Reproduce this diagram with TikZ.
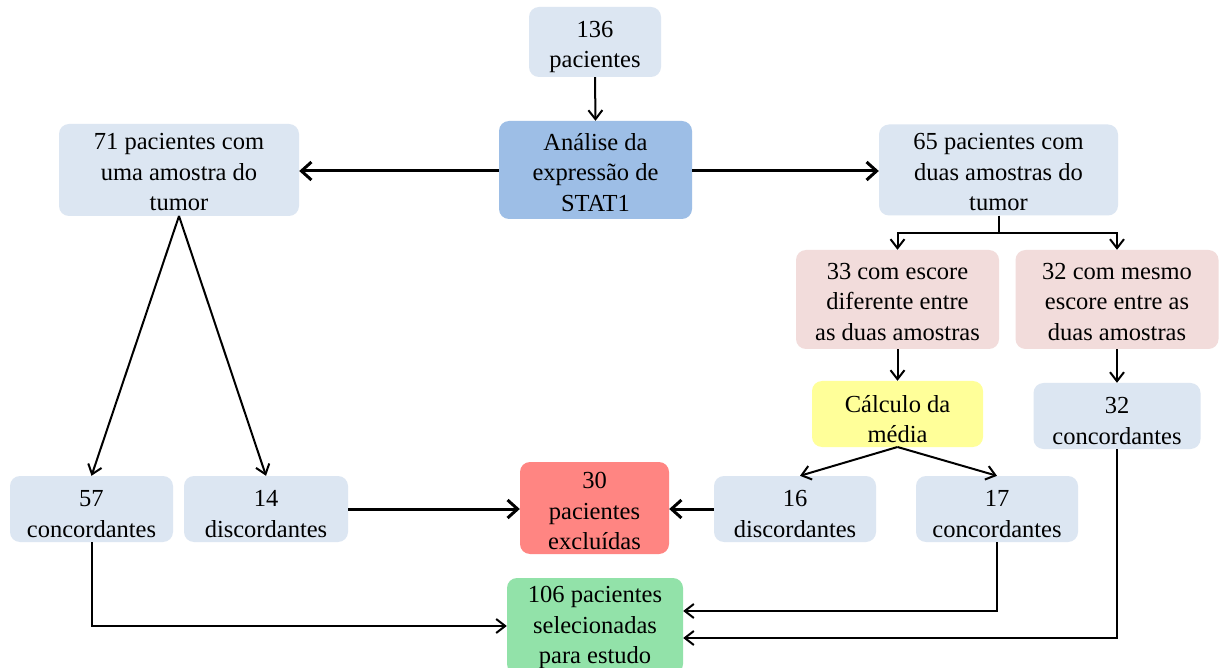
\documentclass[tikz,border=0pt]{standalone}
\usepackage{fontspec}
\setmainfont{Liberation Serif}
\usetikzlibrary{arrows.meta}
\definecolor{lblue}{HTML}{DCE6F2}
\definecolor{mblue}{HTML}{9DBEE6}
\definecolor{lpink}{HTML}{F2DCDB}
\definecolor{lyel}{HTML}{FFFF99}
\definecolor{lred}{HTML}{FF8582}
\definecolor{lgreen}{HTML}{92E2A9}
\tikzset{
  box/.style={rounded corners=10pt, inner sep=0pt},
  txt/.style={inner sep=0pt, align=center,
    font=\fontsize{24.5}{30.5}\selectfont, text=black},
  thinarr/.style={draw=black, line width=2pt, -{Straight Barb[length=9pt,width=14pt,line width=2pt]}},
  thickarr/.style={draw=black, line width=3pt, -{Straight Barb[length=10pt,width=18pt,line width=3pt]}},
  plainline/.style={draw=black, line width=2pt},
}
\newcommand{\boxtext}[3][-5pt]{\node[txt] (t#2) at ([yshift=#1]#2.center) {#3};}
\begin{document}
\begin{tikzpicture}[x=1pt,y=-1pt]
\useasboundingbox (0,0) rectangle (1219,668);
\fill[white] (0,0) rectangle (1219,668);

\node[box, fill=lblue, minimum width=132pt, minimum height=70pt] (n136) at (595,42) {};
\node[box, fill=mblue, minimum width=193pt, minimum height=98pt] (ana) at (595.5,170) {};
\node[box, fill=lblue, minimum width=240pt, minimum height=92pt] (n71) at (179,170) {};
\node[box, fill=lblue, minimum width=239pt, minimum height=91pt] (n65) at (998.5,170) {};
\node[box, fill=lpink, minimum width=203pt, minimum height=99pt] (n33) at (897.5,299.5) {};
\node[box, fill=lpink, minimum width=203pt, minimum height=99pt] (n32m) at (1117,299.5) {};
\node[box, fill=lyel, minimum width=171pt, minimum height=66pt] (calc) at (897.5,414) {};
\node[box, fill=lblue, minimum width=167pt, minimum height=66pt] (c32) at (1117,416) {};
\node[box, fill=lblue, minimum width=163pt, minimum height=66pt] (n57) at (91.5,509) {};
\node[box, fill=lblue, minimum width=164pt, minimum height=66pt] (n14) at (266,509) {};
\node[box, fill=lred, minimum width=149pt, minimum height=92pt] (n30) at (594.5,508) {};
\node[box, fill=lblue, minimum width=162pt, minimum height=66pt] (n16) at (795,509) {};
\node[box, fill=lblue, minimum width=162pt, minimum height=66pt] (n17) at (997,509) {};
\node[box, fill=lgreen, minimum width=176pt, minimum height=96pt] (n106) at (595,626) {};

\boxtext{n136}{136\\pacientes}
\boxtext[-2.5pt]{ana}{Análise da\\expressão de\\STAT1}
\boxtext[-2.5pt]{n71}{71 pacientes com\\uma amostra do\\tumor}
\boxtext[-2.5pt]{n65}{65 pacientes com\\duas amostras do\\tumor}
\boxtext[-2.5pt]{n33}{33 com escore\\diferente entre\\as duas amostras}
\boxtext[-2.5pt]{n32m}{32 com mesmo\\escore entre as\\duas amostras}
\boxtext{calc}{Cálculo da\\média}
\boxtext{c32}{32\\concordantes}
\boxtext{n57}{57\\concordantes}
\boxtext{n14}{14\\discordantes}
\boxtext[-3pt]{n30}{30\\pacientes\\excluídas}
\boxtext{n16}{16\\discordantes}
\boxtext{n17}{17\\concordantes}
\boxtext[-1.5pt]{n106}{106 pacientes\\selecionadas\\para estudo}

\coordinate (split65) at (998.5,233);
\coordinate (top71) at (179,216);
\coordinate (botcalc) at (897.5,447);

\draw[thinarr] (n136.south) -- (ana.north);
\draw[thickarr] (ana.west |- 0,171) -- (n71.east |- 0,171);
\draw[thickarr] (ana.east |- 0,171) -- (n65.west |- 0,171);

\draw[plainline] (n65.south) -- (split65);
\draw[thinarr] (split65) -| (n33.north);
\draw[thinarr] (split65) -| (n32m.north);

\draw[thinarr] (n33.south) -- (calc.north);
\draw[thinarr] (n32m.south) -- (c32.north);

\draw[thinarr] (top71) -- (n57.north);
\draw[thinarr] (top71) -- (n14.north);

\draw[thinarr] (botcalc) -- ([xshift=5pt]n16.north);
\draw[thinarr] (botcalc) -- (n17.north);

\draw[thickarr] (n14.east) -- (n30.west |- n14.east);
\draw[thickarr] (n16.west) -- (n30.east |- n16.west);

\draw[thinarr] (n57.south) |- (n106.west);
\draw[thinarr] (n17.south) |- ([yshift=15pt]n106.east);
\draw[thinarr] (c32.south) |- ([yshift=-12pt]n106.east);
\end{tikzpicture}
\end{document}
